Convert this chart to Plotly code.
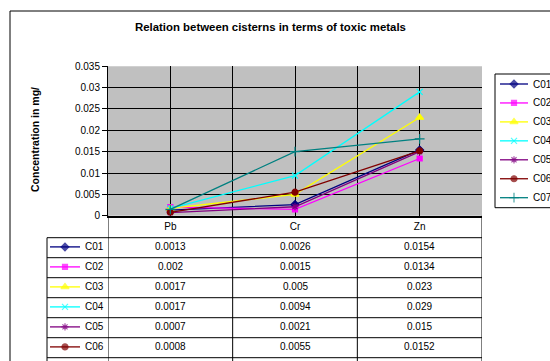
import plotly.graph_objects as go

# ---- data ----
categories = ["Pb", "Cr", "Zn"]
series_names = ["C01", "C02", "C03", "C04", "C05", "C06", "C07"]
C01 = [0.0013, 0.0026, 0.0154]
C02 = [0.002, 0.0015, 0.0134]
C03 = [0.0017, 0.005, 0.023]
C04 = [0.0017, 0.0094, 0.029]
C05 = [0.0007, 0.0021, 0.015]
C06 = [0.0008, 0.0055, 0.0152]
C07 = [0.0015, 0.015, 0.018]
series_values = [C01, C02, C03, C04, C05, C06, C07]

# ---- styles ----
colors = ["#000080", "#FF00FF", "#FFFF00", "#00FFFF", "#800080", "#800000", "#008080"]
symbols = ["diamond", "square", "triangle-up", "x-thin-open", "asterisk-open", "circle", "cross-thin-open"]
sizes = [6, 5, 7, 6, 6, 6, 7]

W, H = 550, 361
FONT = "Liberation Sans, Arial, sans-serif"
plot_left, plot_right = 108, 482
plot_top, plot_bottom = 66.3, 215.7
visible_rows = 6  # the table is cut off by the picture after C06

def px(x):
    return x / W

def py(y):
    return (H - y) / H

fig = go.Figure()
xs = list(range(len(categories)))
for name, vals, c, s, sz in zip(series_names, series_values, colors, symbols, sizes):
    fig.add_trace(go.Scatter(
        x=xs, y=vals, name=name, mode="lines+markers", showlegend=False,
        line=dict(color=c, width=1.3),
        marker=dict(symbol=s, size=sz, color=c, line=dict(color=c, width=1.2)),
        xaxis="x", yaxis="y",
    ))

shapes = []
annotations = []

shapes.append(dict(type="rect", xref="x domain", yref="y domain", x0=0, x1=1, y0=0, y1=1,
                   fillcolor="#C0C0C0", line=dict(width=0), layer="below"))

row_top = 237.7
row_h = 20.0
key_left = 47
table_bottom = row_top + row_h * len(series_names)
for xb in [-0.5, 0.5, 1.5, 2.5]:
    shapes.append(dict(type="line", xref="x", yref="paper", x0=xb, x1=xb,
                       y0=py(plot_bottom), y1=py(table_bottom),
                       line=dict(color="black", width=1)))
shapes.append(dict(type="line", xref="paper", yref="paper", x0=px(key_left), x1=px(key_left),
                   y0=py(row_top), y1=py(table_bottom),
                   line=dict(color="black", width=1)))
for i in range(len(series_names) + 1):
    yy = row_top + row_h * i
    shapes.append(dict(type="line", xref="paper", yref="paper", x0=px(key_left), x1=px(plot_right),
                       y0=py(yy), y1=py(yy), line=dict(color="black", width=1)))

leg_left, leg_top, leg_bottom = 495, 74, 207.7
leg_row0, leg_step = 84, 18.95
shapes.append(dict(type="rect", xref="paper", yref="paper", x0=px(leg_left), x1=px(565),
                   y0=py(leg_top), y1=py(leg_bottom),
                   line=dict(color="black", width=1), fillcolor="white", layer="below"))

for i, (name, vals, c, s, sz) in enumerate(zip(series_names, series_values, colors, symbols, sizes)):
    if i < visible_rows:
        yc = row_top + row_h * (i + 0.5) - 0.8
        fig.add_trace(go.Scatter(
            x=[50, 65, 80], y=[yc, yc, yc], mode="lines+markers", showlegend=False,
            hoverinfo="skip",
            line=dict(color=c, width=1.3),
            marker=dict(symbol=s, size=[0, sz, 0], color=c, line=dict(color=c, width=1.2)),
            xaxis="x2", yaxis="y2",
        ))
        annotations.append(dict(x=px(82.5), y=py(yc), xref="paper", yref="paper", text=name,
                                showarrow=False, xanchor="left", yanchor="middle",
                                font=dict(family=FONT, size=10, color="black")))
        for j, v in enumerate(vals):
            annotations.append(dict(x=j, y=py(yc), xref="x", yref="paper", text=str(v),
                                    showarrow=False, xanchor="center", yanchor="middle",
                                    font=dict(family=FONT, size=10, color="black")))
    yl = leg_row0 + leg_step * i
    fig.add_trace(go.Scatter(
        x=[500, 514, 528], y=[yl, yl, yl], mode="lines+markers", showlegend=False,
        hoverinfo="skip",
        line=dict(color=c, width=1.3),
        marker=dict(symbol=s, size=[0, sz, 0], color=c, line=dict(color=c, width=1.2)),
        xaxis="x2", yaxis="y2",
    ))
    annotations.append(dict(x=px(531), y=py(yl), xref="paper", yref="paper", text=name,
                            showarrow=False, xanchor="left", yanchor="middle",
                            font=dict(family=FONT, size=10, color="black")))

shapes.append(dict(type="rect", xref="paper", yref="paper", x0=px(10), x1=px(560), y0=py(11), y1=py(380),
                   line=dict(color="black", width=1)))

annotations.append(dict(x=px(270), y=py(26.7), xref="paper", yref="paper", showarrow=False,
                        xanchor="center", yanchor="middle",
                        text="<b>Relation between cisterns in terms of toxic metals</b>",
                        font=dict(family=FONT, size=11.4, color="black")))
annotations.append(dict(x=px(35), y=py(139), xref="paper", yref="paper", showarrow=False,
                        textangle=-90, xanchor="center", yanchor="middle",
                        text="<b>Concentration in mg/</b>",
                        font=dict(family=FONT, size=10.5, color="black")))

fig.update_layout(
    template="none",
    width=W, height=H, margin=dict(l=0, r=0, t=0, b=0, autoexpand=False),
    paper_bgcolor="white", plot_bgcolor="rgba(0,0,0,0)",
    font=dict(family=FONT, size=10, color="black"),
    xaxis=dict(domain=[plot_left / W, plot_right / W], range=[-0.5, 2.5],
               tickvals=xs, ticktext=categories, ticks="", showgrid=True,
               gridcolor="black", gridwidth=1, zeroline=False, automargin=False,
               showline=True, linecolor="black", linewidth=2, mirror=False,
               minor=dict(tickvals=[0.5, 1.5], showgrid=True, gridcolor="black", gridwidth=1),
               tickfont=dict(family=FONT, size=10, color="black"), fixedrange=True),
    yaxis=dict(domain=[(H - plot_bottom) / H, (H - plot_top) / H], range=[0, 0.035],
               dtick=0.005, ticks="outside", ticklen=5, tickcolor="black", automargin=False,
               showgrid=True, gridcolor="black", gridwidth=1, zeroline=False,
               showline=True, linecolor="black", linewidth=1,
               tickfont=dict(family=FONT, size=10, color="black"), fixedrange=True),
    xaxis2=dict(domain=[0, 1], range=[0, W], visible=False, anchor="y2", fixedrange=True, automargin=False),
    yaxis2=dict(domain=[0, 1], range=[H, 0], visible=False, anchor="x2", fixedrange=True, automargin=False),
    shapes=shapes, annotations=annotations,
    showlegend=False,
)

fig.write_html(
    "out.html",
    config={"displayModeBar": False, "staticPlot": True},
    post_script="document.body.style.margin='0';document.body.style.overflow='hidden';",
)
